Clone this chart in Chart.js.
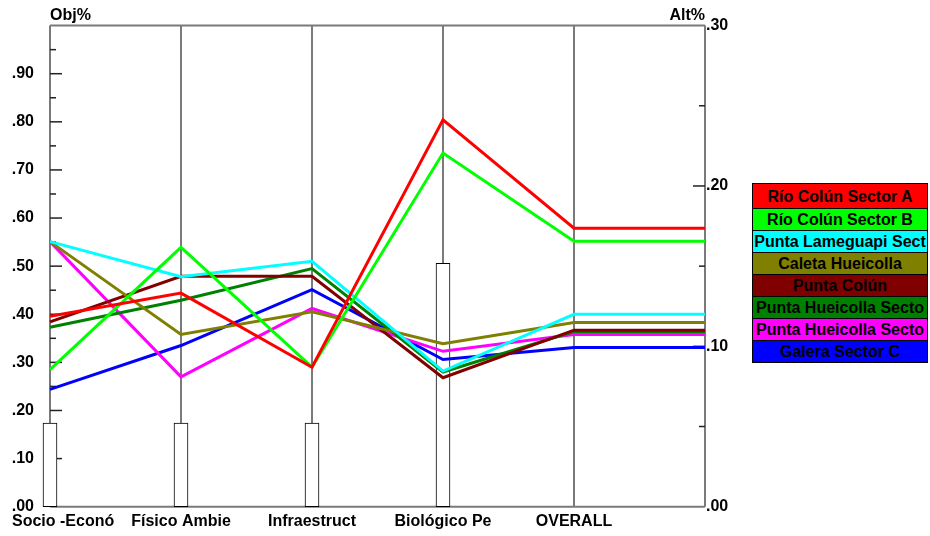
<!DOCTYPE html>
<html>
<head>
<meta charset="utf-8">
<script src="https://cdn.jsdelivr.net/npm/chart.js@4.4.0/dist/chart.umd.min.js"></script>
<style>
  html, body { margin: 0; padding: 0; background: #fff; }
  #wrap { position: relative; width: 930px; height: 536px; overflow: hidden; }
  #c { position: absolute; left: 0; top: 0; }
  #legend { position: absolute; left: 752px; top: 184px; width: 176px; }
  .lg { box-sizing: border-box; width: 176px; border: 1px solid #000; margin-top: -1px;
        font: bold 16px "Liberation Sans", Arial, sans-serif; color: #000; text-align: center;
        white-space: nowrap; overflow: hidden; }
</style>
</head>
<body>
<div id="wrap">
  <canvas id="c" width="930" height="536"></canvas>
  <div id="legend"></div>
</div>
<script>
// ---- data ----
const categories = ['Socio -Econó', 'Físico Ambie', 'Infraestruct', 'Biológico Pe', 'OVERALL'];
const criteriaWeights = [0.174, 0.174, 0.174, 0.506];
const seriesNames = ['Río Colún Sector A', 'Río Colún Sector B', 'Punta Lameguapi Sect', 'Caleta Hueicolla',
                     'Punta Colún', 'Punta Hueicolla Secto', 'Punta Hueicolla Secto', 'Galera Sector C'];
const seriesColors = ['#ff0000', '#00ff00', '#00ffff', '#808000', '#800000', '#008000', '#ff00ff', '#0000ff'];
const rioColunA      = [0.396, 0.444, 0.290, 0.804];
const rioColunB      = [0.285, 0.539, 0.290, 0.735];
const puntaLameguapi = [0.551, 0.478, 0.510, 0.282];
const caletaHueicolla= [0.551, 0.358, 0.405, 0.339];
const puntaColun     = [0.384, 0.479, 0.479, 0.268];
const puntaHueicolla1= [0.373, 0.429, 0.495, 0.280];
const puntaHueicolla2= [0.551, 0.270, 0.412, 0.323];
const galeraC        = [0.244, 0.335, 0.451, 0.306];
const overallValues  = [0.579, 0.552, 0.400, 0.383, 0.367, 0.364, 0.358, 0.331];
const objTicks = [0, 0.1, 0.2, 0.3, 0.4, 0.5, 0.6, 0.7, 0.8, 0.9];
const altTicks = [0, 0.1, 0.2, 0.3];

const seriesValues = [rioColunA, rioColunB, puntaLameguapi, caletaHueicolla, puntaColun, puntaHueicolla1, puntaHueicolla2, galeraC];

const FONT = '"Liberation Sans", Arial, sans-serif';
Chart.defaults.font.family = FONT;
const fmt = v => v.toFixed(2).replace(/^0/, '');

const lineSets = seriesValues.map((vals, i) => ({
  type: 'line',
  label: seriesNames[i],
  data: [...vals, overallValues[i], overallValues[i]],
  borderColor: seriesColors[i],
  backgroundColor: seriesColors[i],
  borderWidth: 3,
  pointRadius: 0,
  tension: 0,
  fill: false,
  order: 1,
  yAxisID: 'y',
  clip: false
}));

const barSet = {
  type: 'bar',
  label: 'weights',
  data: [...criteriaWeights, null, null],
  backgroundColor: '#ffffff',
  borderColor: '#000000',
  borderWidth: 1,
  borderSkipped: false,
  barThickness: 14,
  order: 10,
  yAxisID: 'y',
  clip: false
};

const framePlugin = {
  id: 'frame',
  beforeDatasetsDraw(chart) {
    const { ctx, chartArea: a, scales } = chart;
    const x = scales.x, y = scales.y, y2 = scales.y2;
    ctx.save();
    ctx.strokeStyle = '#7a7a7a';
    ctx.lineWidth = 2;
    for (let i = 0; i <= categories.length; i++) {
      const px = x.getPixelForValue(i);
      ctx.beginPath(); ctx.moveTo(px, a.top); ctx.lineTo(px, a.bottom); ctx.stroke();
    }
    ctx.beginPath(); ctx.moveTo(a.left, a.top); ctx.lineTo(a.right, a.top); ctx.stroke();
    ctx.beginPath(); ctx.moveTo(a.left, a.bottom); ctx.lineTo(a.right, a.bottom); ctx.stroke();
    // inward ticks
    ctx.strokeStyle = '#222';
    ctx.lineWidth = 1.5;
    for (let k = 1; k < 20; k++) {
      const v = k * 0.05;
      const py = y.getPixelForValue(v);
      const len = (k % 2 === 0) ? 12 : 6;
      ctx.beginPath(); ctx.moveTo(a.left, py); ctx.lineTo(a.left + len, py); ctx.stroke();
    }
    for (let k = 1; k < 6; k++) {
      const v = k * 0.05;
      const py = y2.getPixelForValue(v);
      const len = (k % 2 === 0) ? 12 : 6;
      ctx.beginPath(); ctx.moveTo(a.right, py); ctx.lineTo(a.right - len, py); ctx.stroke();
    }
    ctx.restore();
  },
  afterDraw(chart) {
    const { ctx, chartArea: a, scales } = chart;
    const x = scales.x;
    ctx.save();
    ctx.fillStyle = '#000';
    ctx.font = 'bold 16px ' + FONT;
    ctx.textBaseline = 'middle';
    categories.forEach((c, i) => {
      const px = x.getPixelForValue(i);
      if (i === 0) { ctx.textAlign = 'left'; ctx.fillText(c, 12, 522); }
      else { ctx.textAlign = 'center'; ctx.fillText(c, px, 522); }
    });
    ctx.textAlign = 'left';
    ctx.fillText('Obj%', a.left, 16);
    ctx.textAlign = 'right';
    ctx.fillText('Alt%', a.right, 16);
    ctx.restore();
  }
};

new Chart(document.getElementById('c'), {
  data: {
    labels: [...categories, ''],
    datasets: [...lineSets, barSet]
  },
  options: {
    responsive: false,
    devicePixelRatio: 1,
    animation: false,
    layout: { padding: { top: 24.5, left: 0, right: 0, bottom: 0 } },
    plugins: { legend: { display: false }, tooltip: { enabled: false } },
    scales: {
      x: {
        type: 'category',
        offset: false,
        grid: { display: false, drawTicks: false },
        border: { display: false },
        ticks: { display: false },
        afterFit(s) { s.height = 29.3; }
      },
      y: {
        position: 'left',
        min: 0, max: 1,
        afterBuildTicks(s) { s.ticks = objTicks.map(v => ({ value: v })); },
        ticks: { callback: v => fmt(v), color: '#000', font: { size: 16, weight: 'bold' }, padding: 16 },
        grid: { display: false, drawTicks: false },
        border: { display: false },
        afterFit(s) { s.width = 50; }
      },
      y2: {
        position: 'right',
        min: 0, max: 0.3,
        afterBuildTicks(s) { s.ticks = altTicks.map(v => ({ value: v })); },
        ticks: { callback: v => fmt(v), color: '#000', font: { size: 16, weight: 'bold' }, padding: 1 },
        grid: { display: false, drawTicks: false },
        border: { display: false },
        afterFit(s) { s.width = 225; }
      }
    }
  },
  plugins: [framePlugin]
});

// legend
const lg = document.getElementById('legend');
seriesNames.forEach((n, i) => {
  const d = document.createElement('div');
  d.className = 'lg';
  d.style.background = seriesColors[i];
  d.style.height = (i === 0 ? 26 : 23) + 'px';
  d.style.lineHeight = (i === 0 ? 26 : 22) + 'px';
  d.textContent = n;
  lg.appendChild(d);
});
</script>
</body>
</html>
